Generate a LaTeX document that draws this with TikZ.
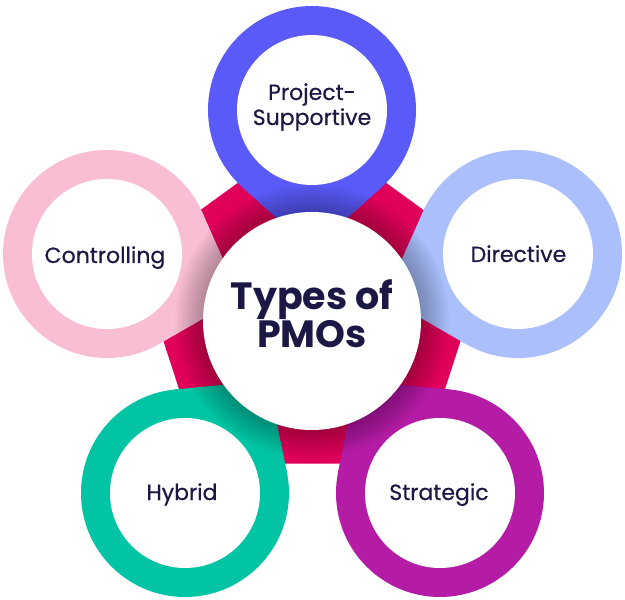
\documentclass[tikz,border=0pt]{standalone}
\usepackage{fontspec}
\setmainfont{Poppins}
\newfontfamily\lblfont{Poppins}[FakeBold=0.5]
\usetikzlibrary{calc}
\definecolor{cBlue}{HTML}{5A5AF8}
\definecolor{cPink}{HTML}{F9BED4}
\definecolor{cLight}{HTML}{AABFFB}
\definecolor{cTeal}{HTML}{00C4A4}
\definecolor{cPurple}{HTML}{B51CA6}
\definecolor{cCrimson}{HTML}{E0005A}
\definecolor{cText}{HTML}{1B1845}
\newcommand{\teardrop}[2]{%
  \fill[#2] (#1) circle[radius=104pt];
  \fill[#2] ($(#1)!140pt!(O)$) -- ($(#1)!104pt!42:(O)$) -- ($(#1)!104pt!-42:(O)$) -- cycle;
}
\begin{document}
\begin{tikzpicture}[x=1pt,y=1pt,
  lbl/.style={text=cText,font=\lblfont\fontsize{22}{25}\selectfont,align=center,anchor=base,inner sep=0pt},
  ttl/.style={text=cText,font=\bfseries\fontsize{38}{36}\selectfont,align=center,anchor=base,inner sep=0pt}]
\useasboundingbox (-312,-279) rectangle (313,321);
\coordinate (O) at (0,0);
\coordinate (P) at (0,7);
\coordinate (cT) at (0,211);
\coordinate (cL) at (-205,67);
\coordinate (cR) at (206,67);
\coordinate (cBL) at (-127,-172);
\coordinate (cBR) at (128,-172);
% pentagon band
\fill[cCrimson] ($(P)+(90:185)$) -- ($(P)+(162:185)$) -- ($(P)+(234:185)$) -- ($(P)+(306:185)$) -- ($(P)+(18:185)$) -- cycle;
% rings
\teardrop{cT}{cBlue}
\teardrop{cL}{cPink}
\teardrop{cR}{cLight}
\teardrop{cBL}{cTeal}
\teardrop{cBR}{cPurple}
\foreach \c in {cT,cL,cR,cBL,cBR}{\fill[white] (\c) circle[radius=75pt];}
% soft shadow around centre
\foreach \i in {1,...,14}{\fill[black,opacity=0.018] (O) circle[radius=109pt+2*\i pt];}
\fill[white] (O) circle[radius=109pt];
% labels
\node[lbl] (tT) at (0,196) {Project-\\Supportive};
\node[lbl] (tL) at (-207,58) {Controlling};
\node[lbl] (tR) at (206.5,59) {Directive};
\node[lbl] (tBL) at (-130,-179) {Hybrid};
\node[lbl] (tBR) at (127,-179) {Strategic};
\node[ttl] (tC) at (0,-27) {Types of\\PMOs};
\end{tikzpicture}
\end{document}
